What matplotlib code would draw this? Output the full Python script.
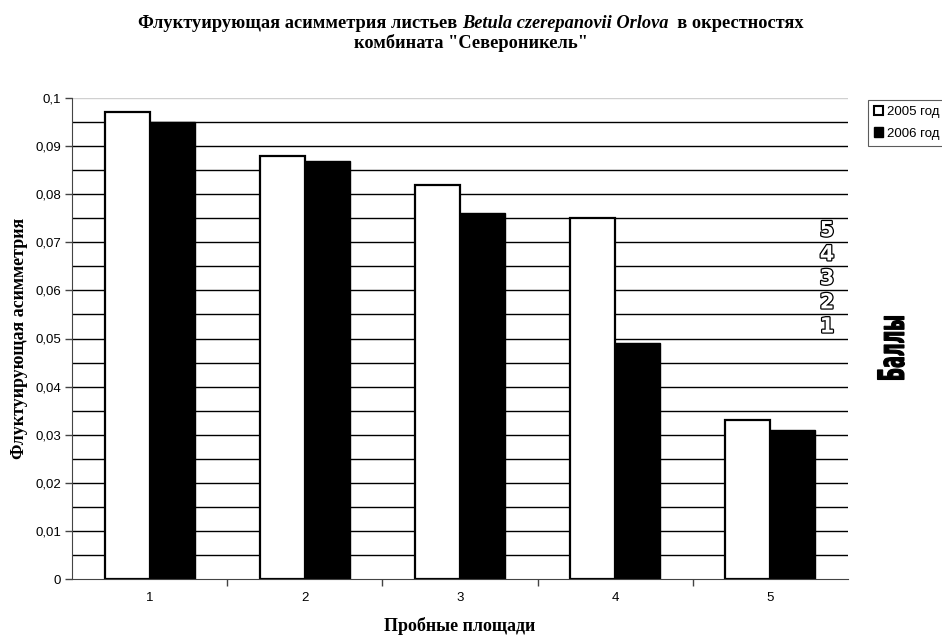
import matplotlib
matplotlib.use("Agg")
import matplotlib.pyplot as plt
import numpy as np
from matplotlib import font_manager
from matplotlib.ticker import MultipleLocator, FixedLocator, FuncFormatter
from matplotlib.patches import Patch, PathPatch
from matplotlib.textpath import TextPath
from matplotlib.transforms import Affine2D, IdentityTransform
import matplotlib.patheffects as pe

# ---- data ----
plots = ["1", "2", "3", "4", "5"]
fa_2005 = [0.097, 0.088, 0.082, 0.075, 0.033]
fa_2006 = [0.095, 0.087, 0.076, 0.049, 0.031]
series_labels = ["2005 год", "2006 год"]
score_labels = ["5", "4", "3", "2", "1"]
score_levels = [0.0725, 0.0675, 0.0625, 0.0575, 0.0525]

title_parts = [("Флуктуирующая асимметрия листьев ", "normal"),
               ("Betula czerepanovii Orlova", "italic"),
               ("  в окрестностях", "normal")]
title_line2 = "комбината \"Североникель\""
xlabel = "Пробные площади"
ylabel = "Флуктуирующая асимметрия"
side_label = "Баллы"


def pick(*names):
    avail = {f.name for f in font_manager.fontManager.ttflist}
    for n in names:
        if n in avail:
            return n
    return "DejaVu Sans"


SERIF = pick("Liberation Serif", "DejaVu Serif")
SANS = pick("Liberation Sans", "DejaVu Sans")
NARROW = pick("Liberation Sans Narrow", "DejaVu Sans")

W, H, DPI = 942, 637, 100
fig = plt.figure(figsize=(W / DPI, H / DPI), dpi=DPI)
fig.patch.set_facecolor("white")

L, R, T, B = 72, 848, 98, 579
ax = fig.add_axes([L / W, 1 - B / H, (R - L) / W, (B - T) / H])

x = np.arange(1, len(plots) + 1)
bw = 0.29
ax.bar(x - bw / 2, fa_2005, width=bw, color="white", edgecolor="black",
       linewidth=1.6, zorder=3)
ax.bar(x + bw / 2, fa_2006, width=bw, color="black", edgecolor="black",
       linewidth=1.0, zorder=3)

ax.set_xlim(0.5, len(plots) + 0.5)
ax.set_ylim(0, 0.1)

# horizontal grid every 0.005, lightest at the top
for yv in np.arange(0.005, 0.1001, 0.005):
    col = "#d0d0d0" if yv > 0.0999 else "black"
    ax.axhline(yv, color=col, linewidth=1.0, zorder=1)

ax.yaxis.set_major_locator(MultipleLocator(0.01))
ax.yaxis.set_major_formatter(FuncFormatter(
    lambda v, p: "0" if abs(v) < 1e-12 else f"{v:.2f}".rstrip("0").replace(".", ",")))
ax.tick_params(axis="y", direction="out", length=5, width=1, color="#444444",
               labelsize=9.5, pad=3)
for lab in ax.get_yticklabels():
    lab.set_fontfamily(SANS)

ax.xaxis.set_major_locator(FixedLocator(x))
ax.set_xticklabels(plots, fontfamily=SANS, fontsize=9.5)
ax.xaxis.set_minor_locator(FixedLocator(np.arange(1.5, len(plots), 1.0)))
ax.tick_params(axis="x", which="major", length=0, pad=9.5)
ax.tick_params(axis="x", which="minor", direction="out", length=5, width=1,
               color="#444444")

for s in ["top", "right"]:
    ax.spines[s].set_visible(False)
ax.spines["left"].set_color("#444444")
ax.spines["bottom"].set_color("#444444")
ax.spines["bottom"].set_zorder(4)

ax.set_xlabel(xlabel, fontfamily=SERIF, fontweight="bold", fontsize=13,
              va="center")
ax.xaxis.set_label_coords(0.5, -(626 - B) / (B - T))
ax.set_ylabel(ylabel, fontfamily=SERIF, fontweight="bold", fontsize=13,
              va="center")
ax.yaxis.set_label_coords(-(L - 20) / (R - L), 0.5)

# title with an italic species name
fig.canvas.draw()
rend = fig.canvas.get_renderer()
tsize = 13.2
pieces = [fig.text(0, 0, s, fontfamily=SERIF, fontweight="bold", style=st,
                   fontsize=tsize, va="center", ha="left")
          for s, st in title_parts]
widths = [p.get_window_extent(rend).width for p in pieces]
x0 = W / 2 - sum(widths) / 2
y1 = 1 - 23 / H
for p, w in zip(pieces, widths):
    p.set_position((x0 / W, y1))
    x0 += w
fig.text(0.5, 1 - 43 / H, title_line2, fontfamily=SERIF, fontweight="bold",
         fontsize=tsize, ha="center", va="center")

# outlined score digits at the right edge of the plot
for lab, lv in zip(score_labels, score_levels):
    ax.text(0.973, lv, lab, transform=ax.get_yaxis_transform(),
            fontfamily=NARROW, fontweight="bold", fontsize=15,
            ha="center", va="center", color="white", zorder=5,
            path_effects=[pe.Stroke(linewidth=1.8, foreground="black"),
                          pe.Normal()])

# heavy condensed rotated caption
fp = font_manager.FontProperties(family=NARROW, weight="bold")
tp = TextPath((0, 0), side_label, size=1, prop=fp)
ext = tp.get_extents()
length_px, thick_px = 63, 27
cx, cy = 891, H - 348
tr = (Affine2D().translate(-(ext.x0 + ext.width / 2), -(ext.y0 + ext.height / 2))
      .scale(length_px / ext.width, thick_px / ext.height)
      .rotate_deg(90).translate(cx, cy))
fig.add_artist(PathPatch(tr.transform_path(tp), facecolor="black",
                         edgecolor="black", linewidth=0.8,
                         transform=IdentityTransform()))

# legend
handles = [Patch(facecolor="white", edgecolor="black", linewidth=1.5),
           Patch(facecolor="black", edgecolor="black", linewidth=1.0)]
leg = fig.legend(handles, series_labels, loc="upper left",
                 bbox_to_anchor=(868 / W, 1 - 100 / H),
                 prop={"family": SANS, "size": 9.5}, frameon=True, fancybox=False,
                 handlelength=0.7, handleheight=0.7, handletextpad=0.3,
                 borderpad=0.45, labelspacing=0.7, borderaxespad=0)
leg.get_frame().set_edgecolor("#333333")
leg.get_frame().set_linewidth(0.8)

fig.savefig("out.png", dpi=DPI, facecolor="white")
